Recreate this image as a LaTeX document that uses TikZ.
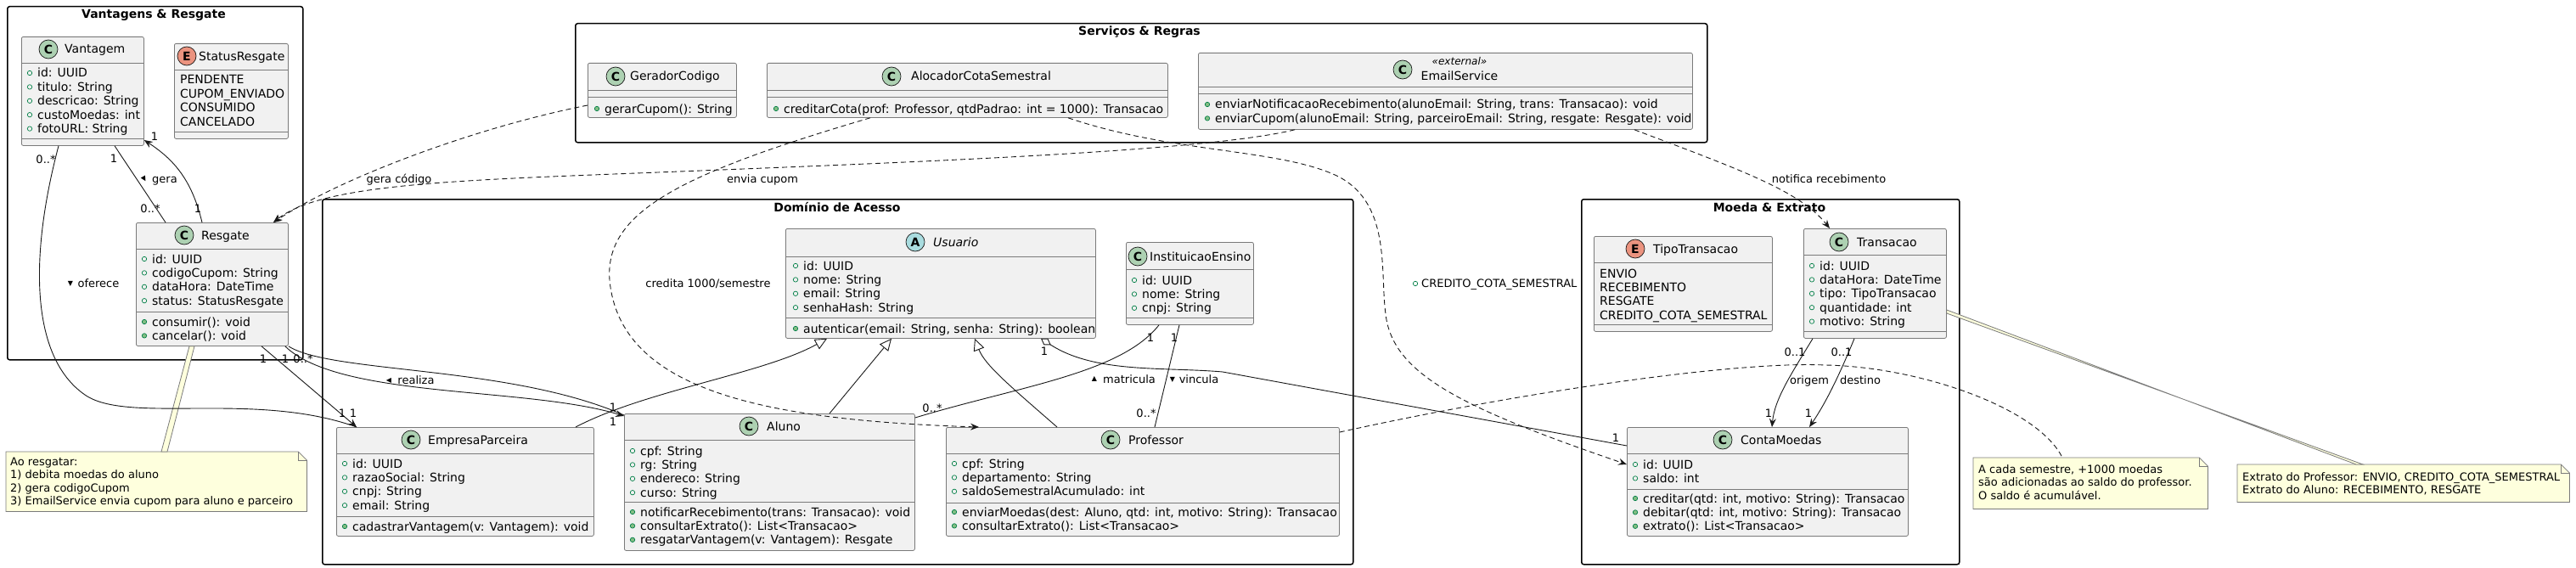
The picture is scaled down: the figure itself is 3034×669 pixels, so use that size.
\documentclass[tikz,border=0pt]{standalone}
\usepackage{fontspec}
\setmainfont{DejaVu Sans}
\usetikzlibrary{arrows.meta}

\definecolor{clsfill}{HTML}{F1F1F1}
\definecolor{clsline}{HTML}{7A7A7A}
\definecolor{lineclr}{HTML}{181818}
\definecolor{badgeC}{HTML}{ADD1B2}
\definecolor{badgeE}{HTML}{EB937F}
\definecolor{badgeA}{HTML}{A9DCDF}
\definecolor{visline}{HTML}{038048}
\definecolor{visfill}{HTML}{84BE84}
\definecolor{notefill}{HTML}{FEFFDD}

\newcommand{\memfont}{\fontsize{14}{16}\selectfont}
\newcommand{\lblfont}{\fontsize{13}{15}\selectfont}
\newcommand{\trifont}{\fontsize{8}{8}\selectfont}

% rows of a class: icon x, centre y of first row, texts
\newcommand{\fieldrows}[3]{\foreach \t [count=\i from 0] in {#3}{%
		\draw[fieldicon] (#1,#2+16.4*\i) circle (2.7pt);
		\node[member] at (#1+9,#2+16.4*\i+5) {\t};}}
\newcommand{\methodrows}[3]{\foreach \t [count=\i from 0] in {#3}{%
		\draw[methodicon] (#1,#2+16.4*\i) circle (2.7pt);
		\node[member] at (#1+9,#2+16.4*\i+5) {\t};}}
\newcommand{\valuerows}[3]{\foreach \t [count=\i from 0] in {#3}{%
		\node[member] at (#1,#2+16.4*\i+5) {\t};}}
\newcommand{\notelines}[3]{\foreach \t [count=\i from 0] in {#3}{%
		\node[notetext] at (#1,#2+15.4*\i+4.5) {\t};}}

\begin{document}
\begin{tikzpicture}[x=1pt,y=-1pt,
	cls/.style={draw=clsline, fill=clsfill, line width=0.8pt, rounded corners=2pt, anchor=north west, inner sep=0pt},
	pkg/.style={draw=black, line width=1.5pt, rounded corners=2.5pt, anchor=north west, inner sep=0pt},
	pkgtitle/.style={font=\memfont\bfseries, anchor=base, inner sep=0pt},
	badge/.style={circle, draw=lineclr, line width=0.7pt, minimum size=22pt, inner sep=0pt, font=\fontsize{14}{14}\selectfont\bfseries},
	cname/.style={font=\memfont, anchor=base west, inner sep=0pt},
	member/.style={font=\memfont, anchor=base west, inner sep=0pt},
	sepline/.style={draw=clsline, line width=0.8pt},
	fieldicon/.style={draw=visline, line width=0.7pt},
	methodicon/.style={draw=visline, fill=visfill, line width=0.7pt},
	lbl/.style={font=\lblfont, anchor=base, inner sep=0pt},
	tri/.style={font=\trifont, inner sep=0pt},
	assoc/.style={draw=lineclr, line width=0.9pt},
	nav/.style={assoc, -{Stealth[length=10pt, width=8pt, inset=3.5pt]}},
	dep/.style={nav, dash pattern=on 6pt off 4pt},
	notedash/.style={assoc, dash pattern=on 6pt off 4pt},
	gen/.style={assoc, -{Triangle[length=14pt, width=13pt, fill=white]}},
	agg/.style={assoc, {Diamond[length=14pt, width=9pt, fill=white]}-},
	notebox/.style={draw=clsline, fill=notefill, line width=0.8pt},
	notetext/.style={font=\lblfont, anchor=base west, inner sep=0pt}
	]
	\useasboundingbox (0,0) rectangle (3034,669);

	% packages
	\node[pkg, minimum width=348, minimum height=416] (vantagens) at (8,7) {};
	\node[pkgtitle] at (181,22) {Vantagens \& Resgate};
	\node[pkg, minimum width=1333, minimum height=140] (servicos) at (677,27) {};
	\node[pkgtitle] at (1342,42) {Serviços \& Regras};
	\node[pkg, minimum width=1214, minimum height=430] (dominio) at (379,234) {};
	\node[pkgtitle] at (986,249) {Domínio de Acesso};
	\node[pkg, minimum width=445, minimum height=430] (moeda) at (1862,234) {};
	\node[pkgtitle] at (2084,249) {Moeda \& Extrato};

	% Vantagem
	\node[cls, minimum width=144, minimum height=128] (vantagem) at (25,43) {};
	\node[badge, fill=badgeC] at (57,58) {C};
	\node[cname] at (76,63) {Vantagem};
	\draw[sepline] (25,74) -- (169,74) (25,163) -- (169,163);
	\fieldrows{35}{86}{id: UUID, titulo: String, descricao: String, custoMoedas: int, fotoURL: String}

	% StatusResgate
	\node[cls, minimum width=134, minimum height=112] (statusresgate) at (205,51) {};
	\node[badge, fill=badgeE] at (220,66) {E};
	\node[cname] at (234,71) {StatusResgate};
	\draw[sepline] (205,82) -- (339,82) (205,155) -- (339,155);
	\valuerows{212}{94}{PENDENTE, CUPOM\_ENVIADO, CONSUMIDO, CANCELADO}

	% Resgate
	\node[cls, minimum width=179, minimum height=145] (resgate) at (160,262) {};
	\node[badge, fill=badgeC] at (217,277) {C};
	\node[cname] at (237,282) {Resgate};
	\draw[sepline] (160,293) -- (339,293) (160,367) -- (339,367);
	\fieldrows{170}{305}{id: UUID, codigoCupom: String, dataHora: DateTime, status: StatusResgate}
	\methodrows{170}{379}{consumir(): void, cancelar(): void}

	% GeradorCodigo
	\node[cls, minimum width=175, minimum height=64] (gerador) at (692,74) {};
	\node[badge, fill=badgeC] at (725,90) {C};
	\node[cname] at (742,95) {GeradorCodigo};
	\draw[sepline] (692,106) -- (867,106) (692,114) -- (867,114);
	\methodrows{703}{128}{gerarCupom(): String}

	% AlocadorCotaSemestral
	\node[cls, minimum width=472, minimum height=64] (alocador) at (903,74) {};
	\node[badge, fill=badgeC] at (1050,90) {C};
	\node[cname] at (1073,95) {AlocadorCotaSemestral};
	\draw[sepline] (903,106) -- (1375,106) (903,114) -- (1375,114);
	\methodrows{914}{128}{{creditarCota(prof: Professor, qtdPadrao: int = 1000): Transacao}}

	% EmailService
	\node[cls, minimum width=582, minimum height=90] (email) at (1411,62) {};
	\node[badge, fill=badgeC] at (1652,82) {C};
	\node[lbl, font=\fontsize{12}{12}\selectfont\itshape] at (1719,77) {«external»};
	\node[cname, anchor=base] at (1719,94) {EmailService};
	\draw[sepline] (1411,102) -- (1993,102) (1411,110) -- (1993,110);
	\methodrows{1422}{123}{{enviarNotificacaoRecebimento(alunoEmail: String, trans: Transacao): void}, {enviarCupom(alunoEmail: String, parceiroEmail: String, resgate: Resgate): void}}

	% Usuario
	\node[cls, minimum width=365, minimum height=129] (usuario) at (925,269) {};
	\node[badge, fill=badgeA] at (1078,285) {A};
	\node[cname, font=\memfont\itshape] at (1099,290) {Usuario};
	\draw[sepline] (925,302) -- (1290,302) (925,374) -- (1290,374);
	\fieldrows{937}{313}{id: UUID, nome: String, email: String, senhaHash: String}
	\methodrows{937}{387}{{autenticar(email: String, senha: String): boolean}}

	% InstituicaoEnsino
	\node[cls, minimum width=150, minimum height=97] (instituicao) at (1326,285) {};
	\node[badge, fill=badgeC] at (1340,302) {C};
	\node[cname] at (1354,307) {InstituicaoEnsino};
	\draw[sepline] (1326,317) -- (1476,317) (1326,374) -- (1476,374);
	\fieldrows{1336}{330}{id: UUID, nome: String, cnpj: String}

	% Aluno
	\node[cls, minimum width=342, minimum height=161] (aluno) at (735,487) {};
	\node[badge, fill=badgeC] at (882,502) {C};
	\node[cname] at (903,507) {Aluno};
	\draw[sepline] (735,518) -- (1077,518) (735,591) -- (1077,591);
	\fieldrows{745}{531}{cpf: String, rg: String, endereco: String, curso: String}
	\methodrows{745}{603}{{notificarRecebimento(trans: Transacao): void}, consultarExtrato(): List<Transacao>, {resgatarVantagem(v: Vantagem): Resgate}}

	% EmpresaParceira
	\node[cls, minimum width=303, minimum height=128] (empresa) at (396,503) {};
	\node[badge, fill=badgeC] at (484,518) {C};
	\node[cname] at (504,523) {EmpresaParceira};
	\draw[sepline] (396,534) -- (699,534) (396,608) -- (699,608);
	\fieldrows{406}{546}{id: UUID, razaoSocial: String, cnpj: String, email: String}
	\methodrows{406}{620}{{cadastrarVantagem(v: Vantagem): void}}

	% Professor
	\node[cls, minimum width=463, minimum height=128] (professor) at (1114,503) {};
	\node[badge, fill=badgeC] at (1308,518) {C};
	\node[cname] at (1329,523) {Professor};
	\draw[sepline] (1114,534) -- (1577,534) (1114,592) -- (1577,592);
	\fieldrows{1124}{546}{cpf: String, departamento: String, saldoSemestralAcumulado: int}
	\methodrows{1124}{603}{{enviarMoedas(dest: Aluno, qtd: int, motivo: String): Transacao}, consultarExtrato(): List<Transacao>}

	% TipoTransacao
	\node[cls, minimum width=210, minimum height=112] (tipotransacao) at (1877,278) {};
	\node[badge, fill=badgeE] at (1926,293) {E};
	\node[cname] at (1947,298) {TipoTransacao};
	\draw[sepline] (1877,309) -- (2087,309) (1877,382) -- (2087,382);
	\valuerows{1884}{322}{ENVIO, RECEBIMENTO, RESGATE, CREDITO\_COTA\_SEMESTRAL}

	% Transacao
	\node[cls, minimum width=168, minimum height=129] (transacao) at (2124,269) {};
	\node[badge, fill=badgeC] at (2166,285) {C};
	\node[cname] at (2187,290) {Transacao};
	\draw[sepline] (2124,300) -- (2292,300) (2124,390) -- (2292,390);
	\fieldrows{2134}{313}{id: UUID, dataHora: DateTime, tipo: TipoTransacao, quantidade: int, motivo: String}

	% ContaMoedas
	\node[cls, minimum width=331, minimum height=128] (contamoedas) at (1916,503) {};
	\node[badge, fill=badgeC] at (2029,518) {C};
	\node[cname] at (2050,523) {ContaMoedas};
	\draw[sepline] (1916,534) -- (2247,534) (1916,576) -- (2247,576);
	\fieldrows{1926}{547}{id: UUID, saldo: int}
	\methodrows{1926}{587}{{creditar(qtd: int, motivo: String): Transacao}, {debitar(qtd: int, motivo: String): Transacao}, extrato(): List<Transacao>}

	% notes
	\node[minimum width=354, minimum height=70, anchor=north west, inner sep=0pt] (noteresg) at (7,532) {};
	\node[minimum width=276, minimum height=60, anchor=north west, inner sep=0pt] (notesem) at (2324,539) {};
	\node[minimum width=391, minimum height=44, anchor=north west, inner sep=0pt] (noteext) at (2635,547) {};
	\foreach \n in {noteresg, notesem, noteext}{
		\draw[notebox] (\n.north west) -- ([xshift=-10pt]\n.north east) -- ([yshift=-10pt]\n.north east) -- (\n.south east) -- (\n.south west) -- cycle;
		\draw[draw=clsline, line width=0.8pt] ([xshift=-10pt]\n.north east) |- ([yshift=-10pt]\n.north east);
	}
	\notelines{12}{544}{Ao resgatar:, 1) debita moedas do aluno, 2) gera codigoCupom, 3) EmailService envia cupom para aluno e parceiro}
	\notelines{2330}{553}{{A cada semestre, +1000 moedas}, são adicionadas ao saldo do professor., O saldo é acumulável.}
	\notelines{2641}{562}{{Extrato do Professor: ENVIO, CREDITO\_COTA\_SEMESTRAL}, {Extrato do Aluno: RECEBIMENTO, RESGATE}}
	\draw[notebox] ([xshift=63pt]resgate.south west) -- ([xshift=69pt]resgate.south west) -- ([xshift=190pt]noteresg.north west) -- ([xshift=183pt]noteresg.north west) -- cycle;
	\draw[notebox] ([yshift=-96pt]transacao.north east) -- ([yshift=-100pt]transacao.north east) -- ([xshift=148pt]noteext.north west) -- ([xshift=140pt]noteext.north west) -- cycle;
	\draw[notedash] ([yshift=-6pt]professor.north east) .. controls (1800,460) and (2050,425) .. (2150,430) .. controls (2260,432) and (2400,480) .. ([xshift=105pt]notesem.north west);

	% Vantagens & Resgate links
	\path[assoc] ([xshift=110pt]vantagem.south west) edge ([xshift=35pt]resgate.north west);
	\draw[nav] ([xshift=78pt]resgate.north west) .. controls (226,212) and (205,188) .. ([yshift=-122pt]vantagem.north east);
	\draw[assoc] ([xshift=44pt]vantagem.south west) .. controls (35,300) and (35,420) .. (100,465) .. controls (150,500) and (300,460) .. ([xshift=24pt]empresa.north west);
	\draw[nav] ([xshift=148pt]resgate.south west) -- ([xshift=24pt]empresa.north west);
	\draw[assoc] (resgate.south east) .. controls (390,440) and (600,430) .. ([yshift=-2pt]aluno.north west);
	\draw[nav] ([xshift=-4pt]resgate.south east) .. controls (400,470) and (620,455) .. ([yshift=-3pt]aluno.north west);

	% inheritance and access
	\draw[gen] ([xshift=282pt]empresa.north west) .. controls (760,460) and (900,440) .. ([xshift=49pt]usuario.south west);
	\draw[gen] ([xshift=242pt]aluno.north west) -- ([xshift=125pt]usuario.south west);
	\draw[gen] ([xshift=131pt]professor.north west) .. controls (1190,455) and (1160,430) .. ([xshift=223pt]usuario.south west);
	\draw[agg] ([xshift=301pt]usuario.south west) .. controls (1290,440) and (1370,432) .. (1440,438) -- ([yshift=-22pt]contamoedas.north west);
	\draw[assoc] ([xshift=39pt]instituicao.south west) .. controls (1320,440) and (1200,455) .. ([yshift=-5pt]aluno.north east);
	\path[assoc] ([xshift=63pt]instituicao.south west) edge ([xshift=246pt]professor.north west);

	% services
	\draw[dep] ([xshift=122pt]alocador.south west) .. controls (800,205) and (712,250) .. (718,330) .. controls (730,460) and (900,495) .. ([xshift=39pt]professor.north west);
	\draw[dep] ([yshift=-50pt]gerador.north west) .. controls (560,150) and (400,210) .. ([xshift=162pt]resgate.north west);
	\draw[dep] ([xshift=114pt]email.south west) .. controls (1420,178) and (1100,190) .. (800,202) .. controls (550,212) and (380,215) .. ([xshift=162pt]resgate.north west);
	\draw[dep] ([xshift=355pt]alocador.south west) .. controls (1380,180) and (1500,175) .. (1570,205) .. controls (1640,235) and (1625,320) .. (1632,370) .. controls (1640,440) and (1720,480) .. ([yshift=-44pt]contamoedas.north west);
	\draw[dep] ([xshift=514pt]email.south west) .. controls (2050,200) and (2120,225) .. ([xshift=31pt]transacao.north west);

	% coins
	\draw[nav] ([xshift=11pt]transacao.south west) .. controls (2110,440) and (2090,470) .. ([xshift=171pt]contamoedas.north west);
	\draw[nav] ([xshift=60pt]transacao.south west) .. controls (2165,445) and (2150,475) .. ([xshift=215pt]contamoedas.north west);

	% multiplicities
	\foreach \x/\y/\t in {134/187/1, 177/246/{0..*}, 233/246/1, 182/161/1, 54/188/{0..*}, 310/423/1, 403/487/1, 416/487/1, 336/423/1, 357/423/{0..*}, 722/480/1, 722/497/1, 1230/414/1, 1903/516/1, 1355/398/1, 1098/481/{0..*}, 1383/398/1, 1350/487/{0..*}, 2114/415/{0..1}, 2083/487/1, 2169/415/{0..1}, 2130/487/1}
		\node[lbl] at (\x,\y+4.5) {\t};

	% link labels
	\node[tri, rotate=-60] at (170,211) {▶};
	\node[lbl] at (194,215.5) {gera};
	\node[tri] at (83,334) {▼};
	\node[lbl] at (116,338.5) {oferece};
	\node[tri] at (458,448) {◀};
	\node[lbl] at (490,452.5) {realiza};
	\node[tri] at (1289,446) {▲};
	\node[lbl] at (1330,451.5) {matricula};
	\node[tri] at (1381,447) {▼};
	\node[lbl] at (1412,451.5) {vincula};
	\node[lbl] at (834,338.5) {credita 1000/semestre};
	\node[lbl] at (470,215.5) {gera código};
	\node[lbl] at (898,215.5) {envia cupom};
	\draw[fieldicon] (1667,334) circle (2.7pt);
	\node[lbl, anchor=base west] at (1674,338.5) {CREDITO\_COTA\_SEMESTRAL};
	\node[lbl] at (2154,215.5) {notifica recebimento};
	\node[lbl] at (2131,452.5) {origem};
	\node[lbl] at (2191,452.5) {destino};
\end{tikzpicture}
\end{document}
